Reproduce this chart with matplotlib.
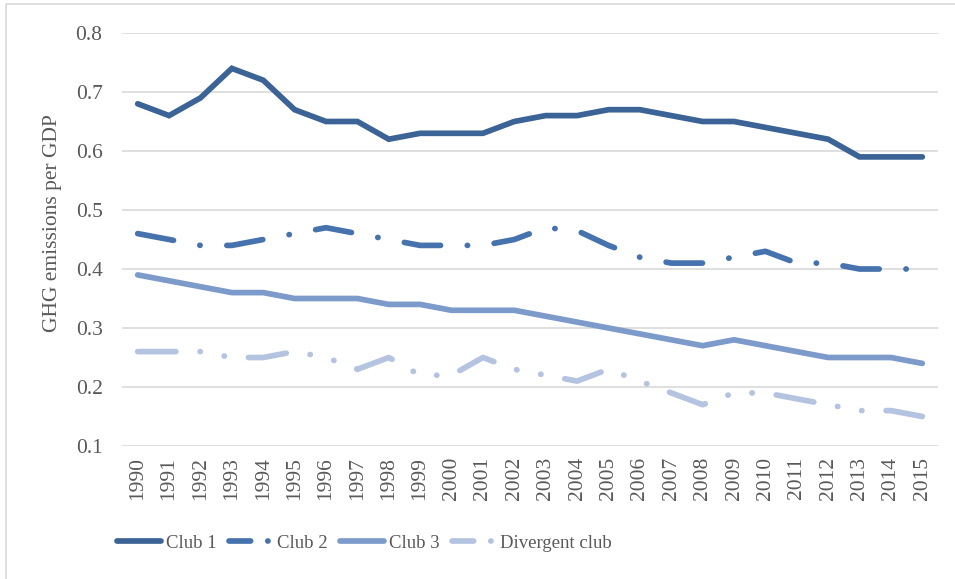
import matplotlib
matplotlib.use('Agg')
import matplotlib.pyplot as plt
from matplotlib.lines import Line2D
from matplotlib.patches import Rectangle
import numpy as np

plt.rcParams['font.family'] = ['Liberation Serif', 'DejaVu Serif']

years = [str(y) for y in range(1990, 2016)]
club1 = [0.68, 0.66, 0.69, 0.74, 0.72, 0.67, 0.65, 0.65, 0.62, 0.63, 0.63, 0.63, 0.65,
         0.66, 0.66, 0.67, 0.67, 0.66, 0.65, 0.65, 0.64, 0.63, 0.62, 0.59, 0.59, 0.59]
club2 = [0.46, 0.45, 0.44, 0.44, 0.45, 0.46, 0.47, 0.46, 0.45, 0.44, 0.44, 0.44, 0.45,
         0.47, 0.465, 0.44, 0.42, 0.41, 0.41, 0.42, 0.43, 0.41, 0.41, 0.40, 0.40, 0.40]
club3 = [0.39, 0.38, 0.37, 0.36, 0.36, 0.35, 0.35, 0.35, 0.34, 0.34, 0.33, 0.33, 0.33,
         0.32, 0.31, 0.30, 0.29, 0.28, 0.27, 0.28, 0.27, 0.26, 0.25, 0.25, 0.25, 0.24]
divergent = [0.26, 0.26, 0.26, 0.25, 0.25, 0.26, 0.25, 0.23, 0.25, 0.22, 0.22, 0.25, 0.23,
             0.22, 0.21, 0.23, 0.21, 0.19, 0.17, 0.19, 0.19, 0.18, 0.17, 0.16, 0.16, 0.15]
labels = ['Club 1', 'Club 2', 'Club 3', 'Divergent club']
colors = ['#3B6395', '#4673AD', '#7C9BCB', '#B3C3E0']

W, H = 955, 579
fig = plt.figure(figsize=(W/100, H/100), dpi=100)
ax = fig.add_axes([122/W, 1 - 446/H, (938-122)/W, (446-33)/H])

lw = 4.1
# dash patterns in units of linewidth
dash2 = (6.4, 4.7, 0.05, 4.7)
dashd = (6.7, 4.25, 0.05, 4.25, 0.05, 4.25)

x = np.arange(len(years))
ax.plot(x, club1, color=colors[0], lw=lw, solid_capstyle='round', solid_joinstyle='miter')
ax.plot(x, club2, color=colors[1], lw=lw, dashes=dash2, dash_capstyle='round')
ax.plot(x, club3, color=colors[2], lw=lw, solid_capstyle='round')
ax.plot(x, divergent, color=colors[3], lw=lw, dashes=dashd, dash_capstyle='round')

ax.set_xlim(-0.5, len(years) - 0.5)
ax.set_ylim(0.1, 0.8)
ax.set_yticks(np.arange(0.1, 0.81, 0.1))
ax.set_yticklabels(['%.1f' % v for v in np.arange(0.1, 0.81, 0.1)])
ax.set_xticks(x)
ax.set_xticklabels(years, rotation=90)
ax.grid(axis='y', color='#D9D9D9', lw=1.2)
ax.set_axisbelow(True)
for s in ax.spines.values():
    s.set_visible(False)
ax.tick_params(axis='both', length=0, colors='#595959', labelsize=15.5)
ax.tick_params(axis='y', pad=14)
ax.tick_params(axis='x', pad=8)

fig.text(52/W, 1 - 223/H, 'GHG emissions per GDP', rotation=90, ha='center', va='center',
         fontsize=15.5, color='#595959')

leg_dash = (3.8, 3.0, 0.05, 3.0)
handles = [
    Line2D([], [], color=colors[0], lw=lw, solid_capstyle='round'),
    Line2D([], [], color=colors[1], lw=lw, dashes=leg_dash, dash_capstyle='round'),
    Line2D([], [], color=colors[2], lw=lw, solid_capstyle='round'),
    Line2D([], [], color=colors[3], lw=lw, dashes=leg_dash, dash_capstyle='round'),
]
fig.legend(handles, labels, loc='center left', bbox_to_anchor=(117/W, 1 - 543/H), ncol=4,
           frameon=False, fontsize=13.5, labelcolor='#595959', handlelength=2.35,
           handletextpad=0.25, columnspacing=0.65, borderaxespad=0, borderpad=0)

fig.patches.append(Rectangle((6/W, -0.1), 1.2, 1.1 - 4/H, transform=fig.transFigure,
                             fill=False, edgecolor='#D9D9D9', lw=1.2))

fig.savefig('out.png', dpi=100)
